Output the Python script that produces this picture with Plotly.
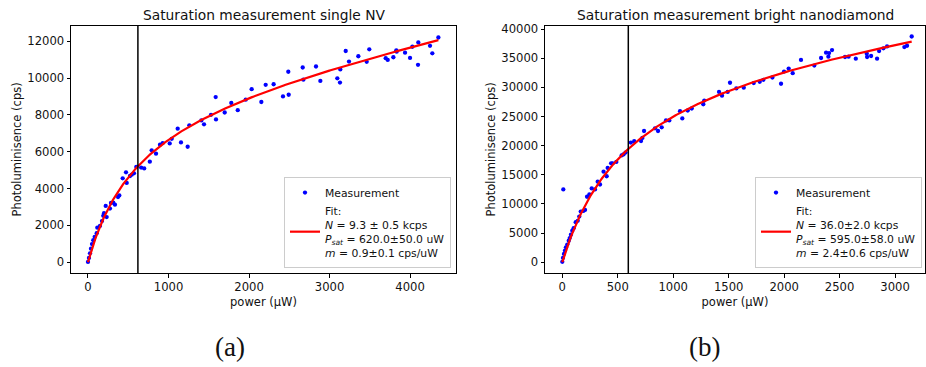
import numpy as np
import plotly.graph_objects as go

# ---------------- data ----------------
P_A = [0, 12, 25, 37, 50, 66, 83, 108, 116, 149, 174, 190, 199, 220, 232, 273, 286, 314, 335, 373,
       389, 431, 472, 481, 522, 543, 571, 600, 660, 698, 768, 791, 845, 894, 928, 1015, 1040, 1114,
       1155, 1238, 1259, 1408, 1441, 1528, 1586, 1590, 1698, 1780, 1860, 1959, 2033, 2153, 2207,
       2306, 2422, 2488, 2493, 2667, 2675, 2832, 2886, 3097, 3130, 3134, 3201, 3242, 3358, 3462,
       3494, 3698, 3723, 3793, 3830, 3834, 3938, 4000, 4029, 4099, 4103, 4248, 4277, 4352]
C_A = [16, 230, 482, 734, 981, 1195, 1377, 1570, 1876, 1966, 2234, 2519, 2663, 3055, 2449, 2910,
       3215, 3232, 3124, 3537, 3626, 4555, 4880, 4303, 4679, 4753, 4823, 5170, 5140, 5091, 5458,
       6072, 5895, 6377, 6468, 6447, 6699, 7251, 6501, 6270, 7433, 7701, 7487, 8001, 8966, 7755,
       8130, 8644, 8253, 8826, 9395, 8698, 9630, 9663, 9003, 10343, 9094, 10573, 9914, 10627,
       9845, 9984, 9753, 10466, 11468, 10895, 11184, 10879, 11560, 11077, 10986, 11131, 11506,
       11431, 11377, 11093, 11699, 10718, 11935, 11752, 11345, 12203]

P_B = [0, 6, 9, 15, 24, 33, 45, 58, 67, 78, 90, 102, 121, 139, 153, 166, 190, 205, 223, 244,
       265, 295, 319, 340, 372, 400, 409, 440, 455, 487, 535, 552, 570, 618, 648, 710, 722, 737,
       836, 863, 896, 935, 965, 1061, 1082, 1131, 1167, 1271, 1280, 1413, 1440, 1491, 1512, 1569,
       1636, 1726, 1780, 1813, 1894, 1972, 1999, 2041, 2077, 2152, 2272, 2333, 2378, 2399, 2405,
       2432, 2549, 2581, 2646, 2745, 2748, 2784, 2838, 2856, 2895, 2928, 3084, 3108, 3150]
C_B = [50, 730, 12470, 1410, 1990, 2550, 3010, 3690, 4130, 4710, 5390, 5830, 6860, 7090, 7820,
       8670, 8790, 8960, 11220, 11620, 12640, 12470, 13800, 13320, 15530, 14740, 16160, 16950,
       16950, 17200, 18310, 18490, 18800, 20520, 20750, 20780, 21310, 22500, 22960, 22500, 23130,
       24320, 24320, 25900, 24660, 26020, 26360, 27090, 27720, 29200, 28570, 29200, 30780, 29810,
       29930, 30730, 30950, 31290, 31680, 30610, 32700, 33210, 32430, 34690, 33720, 35030, 35940,
       35260, 35880, 36390, 35200, 35260, 34920, 35770, 35200, 35370, 34920, 36220, 36680, 37020,
       36900, 37130, 38720]

# fit parameters (from legend)
N_A, PSAT_A, M_A = 9300, 620.0, 0.9
N_B, PSAT_B, M_B = 36000, 595.0, 2.4

TITLE_A = "Saturation measurement single NV"
TITLE_B = "Saturation measurement bright nanodiamond"
FIT_A = "Fit:<br><i>N</i> = 9.3 ± 0.5 kcps<br><i>P<sub>sat</sub></i> = 620.0±50.0 uW<br><i>m</i> = 0.9±0.1 cps/uW"
FIT_B = "Fit:<br><i>N</i> = 36.0±2.0 kcps<br><i>P<sub>sat</sub></i> = 595.0±58.0 uW<br><i>m</i> = 2.4±0.6 cps/uW"
XTICKS_A = [0, 1000, 2000, 3000, 4000]
YTICKS_A = [0, 2000, 4000, 6000, 8000, 10000, 12000]
XTICKS_B = [0, 500, 1000, 1500, 2000, 2500, 3000]
YTICKS_B = [0, 5000, 10000, 15000, 20000, 25000, 30000, 35000, 40000]


def model(p, n, psat, m):
    p = np.asarray(p, dtype=float)
    return n * p / (p + psat) + m * p


W, H = 926, 367
FONT = "DejaVu Sans"

fig = go.Figure()

for (P, C, N, PS, M, fit_name, xa, ya, leg) in [
    (P_A, C_A, N_A, PSAT_A, M_A, FIT_A, "x", "y", "legend"),
    (P_B, C_B, N_B, PSAT_B, M_B, FIT_B, "x2", "y2", "legend2"),
]:
    fig.add_trace(go.Scatter(x=P, y=C, mode="markers", name="Measurement",
                             marker=dict(color="#0000ff", size=4.3, line=dict(width=0)),
                             xaxis=xa, yaxis=ya, legend=leg))
    pf = np.linspace(min(P), max(P), 300)
    fig.add_trace(go.Scatter(x=pf, y=model(pf, N, PS, M), mode="lines", name=fit_name,
                             line=dict(color="#ff0000", width=2.2),
                             xaxis=xa, yaxis=ya, legend=leg))

for ps, xr, yr in [(PSAT_A, "x", "y domain"), (PSAT_B, "x2", "y2 domain")]:
    fig.add_shape(type="line", x0=ps, x1=ps, y0=0, y1=1, xref=xr, yref=yr,
                  line=dict(color="black", width=1.5))

ydom = [1 - 272 / H, 1 - 22 / H]
axis_common = dict(showgrid=False, zeroline=False, showline=True, linecolor="black",
                   linewidth=1, mirror=True, ticks="outside", ticklen=3.5, tickwidth=0.9,
                   tickcolor="black", tickformat="d",
                   tickfont=dict(family=FONT, size=11.6, color="#111"),
                   title_font=dict(family=FONT, size=11.5, color="#111"))

leg_common = dict(yanchor="bottom", xanchor="right", y=1 - 267 / H,
                  bgcolor="white", bordercolor="#cccccc", borderwidth=1,
                  font=dict(family=FONT, size=10.8, color="#111"), itemwidth=30,
                  tracegroupgap=0)

fig.update_layout(
    width=W, height=H, autosize=False,
    margin=dict(l=0, r=0, t=0, b=0),
    paper_bgcolor="white", plot_bgcolor="white",
    xaxis=dict(domain=[71 / W, 456 / W], range=[-211, 4571], tickvals=XTICKS_A,
               title=dict(text="power (µW)", standoff=4), anchor="y", **axis_common),
    yaxis=dict(domain=ydom, range=[-590, 12840], tickvals=YTICKS_A,
               title=dict(text="Photoluminisence (cps)", standoff=3), anchor="x", **axis_common),
    xaxis2=dict(domain=[545 / W, 925 / W], range=[-156, 3270], tickvals=XTICKS_B,
                title=dict(text="power (µW)", standoff=4), anchor="y2", **axis_common),
    yaxis2=dict(domain=ydom, range=[-1870, 40560], tickvals=YTICKS_B,
                title=dict(text="Photoluminisence (cps)", standoff=3), anchor="x2", **axis_common),
    legend=dict(x=451 / W, **leg_common),
    legend2=dict(x=922 / W, **leg_common),
    showlegend=True,
)

annots = [
    dict(text=TITLE_A, x=(71 + 456) / 2 / W, y=1 - 11 / H),
    dict(text=TITLE_B, x=(545 + 925) / 2 / W, y=1 - 11 / H),
]
for a in annots:
    fig.add_annotation(xref="paper", yref="paper", xanchor="center", yanchor="middle",
                       showarrow=False, font=dict(family=FONT, size=13.8, color="#111"), **a)

for lab, cx in [("(a)", 230), ("(b)", 704)]:
    fig.add_annotation(text=lab, xref="paper", yref="paper", x=cx / W, y=1 - 347 / H,
                       xanchor="center", yanchor="middle", showarrow=False,
                       font=dict(family="Liberation Serif", size=27, color="#111"))

fig.write_html("out.html")
